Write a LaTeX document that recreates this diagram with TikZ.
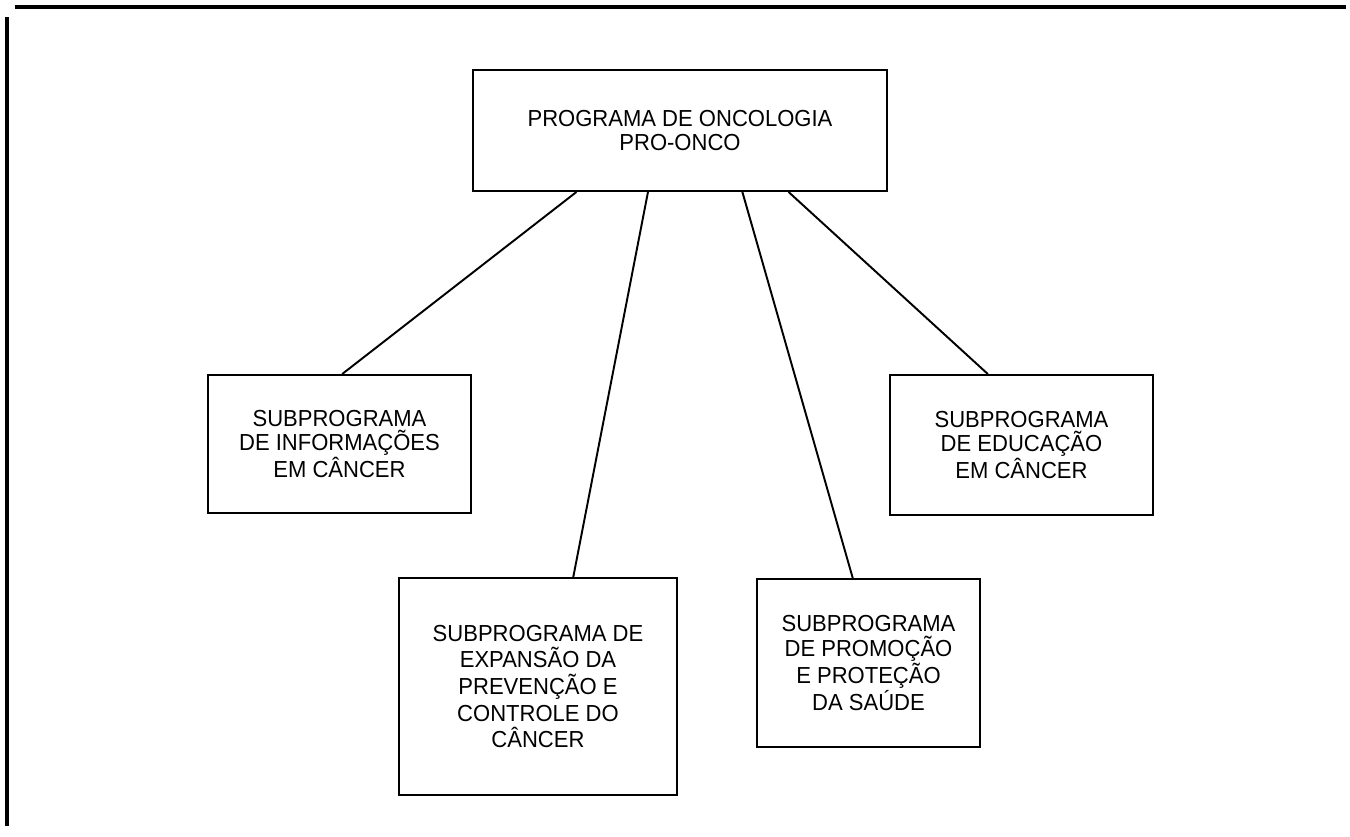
\documentclass[tikz,border=0pt]{standalone}
\usepackage{fontspec}
\setmainfont[FakeStretch=0.95]{Liberation Sans}
\usetikzlibrary{calc}
\tikzset{
    progbox/.style={draw, line width=1.1pt, align=center, inner sep=0pt, font=\fontsize{13.2}{14.2}\selectfont},
    link/.style={line width=1.1pt},
    frame/.style={line width=1.8pt}
}

\begin{document}
\begin{tikzpicture}[x=0.02cm, y=-0.02cm]
    \useasboundingbox (0,0) rectangle (1350,836);

    % Page frame
    \draw[frame] (15,7) -- (1346,7);
    \draw[frame] (7,17) -- (7,826);

    % Main programme
    \node[progbox, minimum width=8.28cm, minimum height=2.42cm] (prog) at (680,130.5) {PROGRAMA DE ONCOLOGIA\\PRO-ONCO};

    % Subprogrammes
    \node[progbox, minimum width=5.26cm, minimum height=2.76cm] (info) at (339.5,444) {SUBPROGRAMA\\DE INFORMAÇÕES\\EM CÂNCER};
    \node[progbox, minimum width=5.26cm, minimum height=2.80cm] (educ) at (1021.5,445) {SUBPROGRAMA\\DE EDUCAÇÃO\\EM CÂNCER};
    \node[progbox, minimum width=5.56cm, minimum height=4.34cm, font=\fontsize{13.2}{15.1}\selectfont] (prev) at (538,686.5) {SUBPROGRAMA DE\\EXPANSÃO DA\\PREVENÇÃO E\\CONTROLE DO\\CÂNCER};
    \node[progbox, minimum width=4.46cm, minimum height=3.36cm] (prom) at (868.5,663) {SUBPROGRAMA\\DE PROMOÇÃO\\E PROTEÇÃO\\DA SAÚDE};

    % Links
    \draw[link] ($(prog.south west)!0.251!(prog.south east)$) -- ($(info.north west)!0.51!(info.north east)$);
    \draw[link] ($(prog.south west)!0.423!(prog.south east)$) -- ($(prev.north west)!0.626!(prev.north east)$);
    \draw[link] ($(prog.south west)!0.65!(prog.south east)$) -- ($(prom.north west)!0.43!(prom.north east)$);
    \draw[link] ($(prog.south west)!0.761!(prog.south east)$) -- ($(educ.north west)!0.373!(educ.north east)$);

\end{tikzpicture}
\end{document}
